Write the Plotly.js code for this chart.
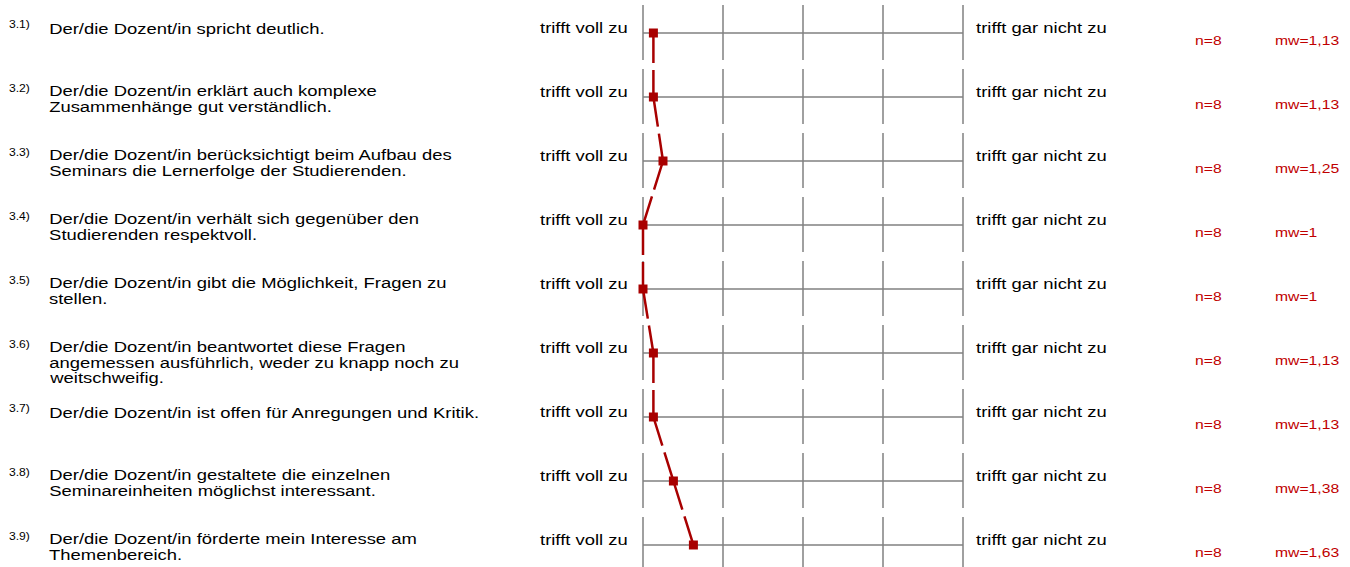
<!DOCTYPE html>
<html>
<head>
<meta charset="utf-8">
<script src="https://cdn.plot.ly/plotly-3.0.1.min.js"></script>
<style>html,body{margin:0;padding:0;background:#fff;}#chart{width:1350px;height:567px;}</style>
</head>
<body>
<div id="chart"></div>
<script>
// ---- data ----
const itemNumbers = ["3.1)", "3.2)", "3.3)", "3.4)", "3.5)", "3.6)", "3.7)", "3.8)", "3.9)"];
const questionLines = [
  ["Der/die Dozent/in spricht deutlich."],
  ["Der/die Dozent/in erklärt auch komplexe", "Zusammenhänge gut verständlich."],
  ["Der/die Dozent/in berücksichtigt beim Aufbau des", "Seminars die Lernerfolge der Studierenden."],
  ["Der/die Dozent/in verhält sich gegenüber den", "Studierenden respektvoll."],
  ["Der/die Dozent/in gibt die Möglichkeit, Fragen zu", "stellen."],
  ["Der/die Dozent/in beantwortet diese Fragen", "angemessen ausführlich, weder zu knapp noch zu", "weitschweifig."],
  ["Der/die Dozent/in ist offen für Anregungen und Kritik."],
  ["Der/die Dozent/in gestaltete die einzelnen", "Seminareinheiten möglichst interessant."],
  ["Der/die Dozent/in förderte mein Interesse am", "Themenbereich."]
];
const meanValues = [1.13, 1.13, 1.25, 1, 1, 1.13, 1.13, 1.38, 1.63];
const nValues = [8, 8, 8, 8, 8, 8, 8, 8, 8];
const leftPole = "trifft voll zu";
const rightPole = "trifft gar nicht zu";
const scalePoints = [1, 2, 3, 4, 5];

// ---- layout helpers ----
const W = 1350, H = 567;
const X0PX = 643, PXU = 80;      // pixel of scale value 1, pixels per unit
const Y0PX = 33, ROWPX = 64;     // pixel of first row, pixels per row
const px2x = p => 1 + (p - X0PX) / PXU;
const py = p => p / ROWPX;       // pixel offset -> row units

const FONT = "Liberation Sans, Arial, sans-serif";
const GRID = "#808080";
const RED = "#a80000";
const TXTRED = "#c00000";
const FS = 15.5, FS_NUM = 10.2, FS_RED = 13.2;
const TEXT_STRETCH = 1.19;       // the reference text is set slightly widened

const shapes = [];
const annotations = [];
const traces = [];

meanValues.forEach((m, i) => {
  shapes.push({type: "line", layer: "below", xref: "x", yref: "y", x0: scalePoints[0], x1: scalePoints[scalePoints.length - 1],
    y0: i, y1: i, line: {color: GRID, width: 1.5}});
  scalePoints.forEach(s => {
    shapes.push({type: "line", layer: "below", xref: "x", yref: "y", x0: s, x1: s,
      y0: i - py(28), y1: i + py(27), line: {color: GRID, width: 1.5}});
  });
  annotations.push({xref: "x", yref: "y", x: px2x(7), y: i - py(8.5), text: itemNumbers[i],
    showarrow: false, xanchor: "left", yanchor: "middle", font: {family: FONT, size: FS_NUM, color: "#000"}});
  const nl = questionLines[i].length;
  questionLines[i].forEach((ln, k) => {
    const off = (nl === 1 ? -4.5 : -6.5) + 15.7 * k;
    annotations.push({xref: "x", yref: "y", x: px2x(47), y: i + py(off), text: ln,
      showarrow: false, xanchor: "left", yanchor: "middle", font: {family: FONT, size: FS, color: "#000"}});
  });
  annotations.push({xref: "x", yref: "y", x: px2x(630), y: i - py(5.5), text: leftPole,
    showarrow: false, xanchor: "right", yanchor: "middle", font: {family: FONT, size: FS, color: "#000"}});
  annotations.push({xref: "x", yref: "y", x: px2x(974), y: i - py(5.5), text: rightPole,
    showarrow: false, xanchor: "left", yanchor: "middle", font: {family: FONT, size: FS, color: "#000"}});
  annotations.push({xref: "x", yref: "y", x: px2x(1193), y: i + py(7), text: "n=" + nValues[i],
    showarrow: false, xanchor: "left", yanchor: "middle", font: {family: FONT, size: FS_RED, color: TXTRED}});
  annotations.push({xref: "x", yref: "y", x: px2x(1273), y: i + py(7), text: "mw=" + String(m).replace(".", ","),
    showarrow: false, xanchor: "left", yanchor: "middle", font: {family: FONT, size: FS_RED, color: TXTRED}});
});

for (let i = 0; i < meanValues.length - 1; i++) {
  traces.push({type: "scatter", mode: "lines", x: [meanValues[i], meanValues[i + 1]], y: [i, i + 1],
    line: {color: RED, width: 2.5, dash: "30px,7px"}, hoverinfo: "skip", showlegend: false});
}
traces.push({type: "scatter", mode: "markers", x: meanValues, y: meanValues.map((_, i) => i),
  marker: {symbol: "square", size: 9, color: RED, line: {width: 0}}, hoverinfo: "skip", showlegend: false});

const layout = {
  width: W, height: H,
  margin: {l: 0, r: 0, t: 0, b: 0, pad: 0},
  paper_bgcolor: "#fff", plot_bgcolor: "#fff",
  showlegend: false,
  xaxis: {range: [px2x(0), px2x(W)], visible: false, fixedrange: true},
  yaxis: {range: [py(H - Y0PX), py(-Y0PX)], visible: false, fixedrange: true},
  shapes: shapes,
  annotations: annotations,
  font: {family: FONT}
};

Plotly.newPlot("chart", traces, layout, {staticPlot: true, displayModeBar: false}).then(gd => {
  // widen the annotation text horizontally, keeping each text's anchored edge fixed
  gd.querySelectorAll("g.annotation").forEach(g => {
    const idx = +g.getAttribute("data-index");
    const t = g.querySelector("text.annotation-text");
    if (!t || isNaN(idx)) return;
    const bb = t.getBBox();
    const right = annotations[idx].xanchor === "right";
    const ax = right ? bb.x + bb.width : bb.x;
    const prev = t.getAttribute("transform") || "";
    t.setAttribute("transform", (prev + " translate(" + ax + ",0) scale(" + TEXT_STRETCH + ",1) translate(" + (-ax) + ",0)").trim());
  });
});
</script>
</body>
</html>
